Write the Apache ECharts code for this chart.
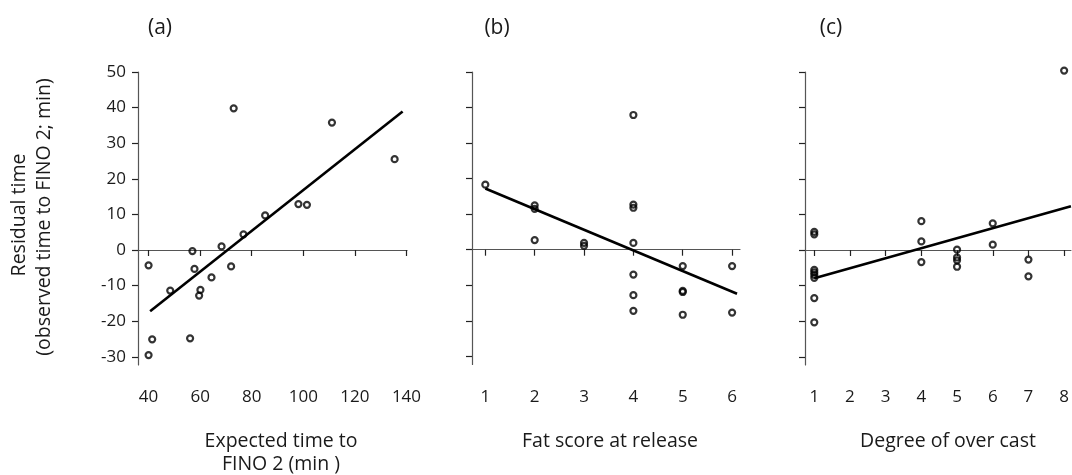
<!DOCTYPE html>
<html>
<head>
<meta charset="utf-8">
<script src="https://cdn.jsdelivr.net/npm/echarts@6/dist/echarts.min.js"></script>
<style>
html,body{margin:0;padding:0;background:#fff;}
#chart{width:1072px;height:475px;}
</style>
</head>
<body>
<div id="chart"></div>
<script>
// Panel (a): expected time to FINO 2 vs residual time
const aX = [40, 40, 41.4, 48.4, 56.1, 57.0, 57.8, 59.6, 60.1, 64.4, 68.3, 72.0, 73.0, 76.8, 85.2, 98.1, 101.4, 111.1, 135.4];
const aY = [-4.3, -29.5, -25.1, -11.4, -24.8, -0.3, -5.3, -12.8, -11.2, -7.7, 1.0, -4.6, 39.8, 4.4, 9.7, 12.9, 12.7, 35.8, 25.5];
const fitA = [[40.6, -17.2], [138.5, 38.9]];

// Panel (b): fat score at release
const bX = [1, 2, 2, 2, 3, 3, 4, 4, 4, 4, 4, 4, 4, 5, 5, 5, 5, 6, 6];
const bY = [18.3, 12.5, 11.5, 2.7, 1.9, 1.1, 37.9, 12.7, 11.8, 1.9, -7.0, -12.8, -17.2, -4.6, -11.6, -11.9, -18.3, -4.6, -17.7];
const fitB = [[1, 17.2], [6.1, -12.4]];

// Panel (c): degree of overcast
const cX = [1, 1, 1, 1, 1, 1, 1, 1, 4, 4, 4, 5, 5, 5, 5, 6, 6, 7, 7, 8];
const cY = [5.1, 4.4, -5.6, -6.3, -7.0, -7.8, -13.5, -20.3, 8.1, 2.4, -3.4, 0.1, -2.1, -2.9, -4.7, 7.5, 1.5, -2.7, -7.4, 50.4];
const fitC = [[1, -7.9], [8.19, 12.3]];

const yTicks = [-30, -20, -10, 0, 10, 20, 30, 40, 50];
const aTicks = [40, 60, 80, 100, 120, 140];
const bTicks = [1, 2, 3, 4, 5, 6];
const cTicks = [1, 2, 3, 4, 5, 6, 7, 8];

const panelTitles = ['(a)', '(b)', '(c)'];
const xNames = ['Expected time to\nFINO 2 (min )', 'Fat score at release', 'Degree of over cast'];
const yName = ['Residual time', '(observed time to FINO 2; min)'];

const FONT = '"Open Sans", "Noto Sans", sans-serif';
const AXC = '#555';
const TXT = '#1a1a1a';

function zip(xs, ys) { return xs.map((x, i) => [x, ys[i]]); }

const grids = [
  { left: 138, top: 72, width: 269, height: 293 },
  { left: 472, top: 72, width: 268, height: 292.5 },
  { left: 805, top: 72, width: 267, height: 293 }
];
const xRanges = [[35.9, 140.2], [0.73, 6.16], [0.74, 8.19]];
const xTickSets = [aTicks, bTicks, cTicks];

const xAxes = grids.map((g, i) => ({
  type: 'value', gridIndex: i, min: xRanges[i][0], max: xRanges[i][1],
  axisLine: { show: true, lineStyle: { color: AXC, width: 1.2 } },
  axisTick: { show: true, length: 6, customValues: xTickSets[i], lineStyle: { color: '#222', width: 1.2 } },
  axisLabel: { show: true, customValues: xTickSets[i], margin: 24, color: TXT, fontSize: 17, fontFamily: FONT },
  splitLine: { show: false }
}));
const yAxes = grids.map((g, i) => ({
  type: 'value', gridIndex: i, min: -32.3, max: 50,
  axisLine: { show: true, lineStyle: { color: AXC, width: 1.2 } },
  axisTick: { show: true, length: 6, customValues: yTicks, lineStyle: { color: '#222', width: 1.2 } },
  axisLabel: { show: i === 0, customValues: yTicks, margin: 12, color: TXT, fontSize: 17, fontFamily: FONT },
  splitLine: { show: false }
}));

const pts = [zip(aX, aY), zip(bX, bY), zip(cX, cY)];
const fits = [fitA, fitB, fitC];
const series = [];
for (let i = 0; i < 3; i++) {
  series.push({
    type: 'scatter', xAxisIndex: i, yAxisIndex: i, data: pts[i], clip: false,
    symbol: 'circle', symbolSize: 6,
    itemStyle: { color: 'rgba(0,0,0,0)', borderColor: '#000', borderWidth: 2.2 },
    z: 3
  });
  series.push({
    type: 'line', xAxisIndex: i, yAxisIndex: i, data: fits[i], showSymbol: false, clip: false,
    lineStyle: { color: '#000', width: 2.6 }, z: 2
  });
}

const titleX = [160, 497, 831];
const nameX = [281, 610, 948];
const g2 = [];
for (let i = 0; i < 3; i++) {
  g2.push({ type: 'text', x: titleX[i], y: 28, style: { text: panelTitles[i], fill: TXT, font: '21px ' + FONT, align: 'center', verticalAlign: 'middle' } });
  g2.push({ type: 'text', x: nameX[i], y: 430, style: { text: xNames[i], fill: TXT, font: '19.5px ' + FONT, align: 'center', verticalAlign: 'top', lineHeight: 23 } });
}
g2.push({ type: 'text', x: 19, y: 215, rotation: Math.PI / 2, style: { text: yName[0], fill: TXT, font: '19.5px ' + FONT, align: 'center', verticalAlign: 'middle' } });
g2.push({ type: 'text', x: 44, y: 217, rotation: Math.PI / 2, style: { text: yName[1], fill: TXT, font: '19.5px ' + FONT, align: 'center', verticalAlign: 'middle' } });

const chart = echarts.init(document.getElementById('chart'), null, { renderer: 'canvas' });
chart.setOption({
  animation: false,
  backgroundColor: '#fff',
  grid: grids,
  xAxis: xAxes,
  yAxis: yAxes,
  series: series,
  graphic: g2
});
</script>
</body>
</html>
